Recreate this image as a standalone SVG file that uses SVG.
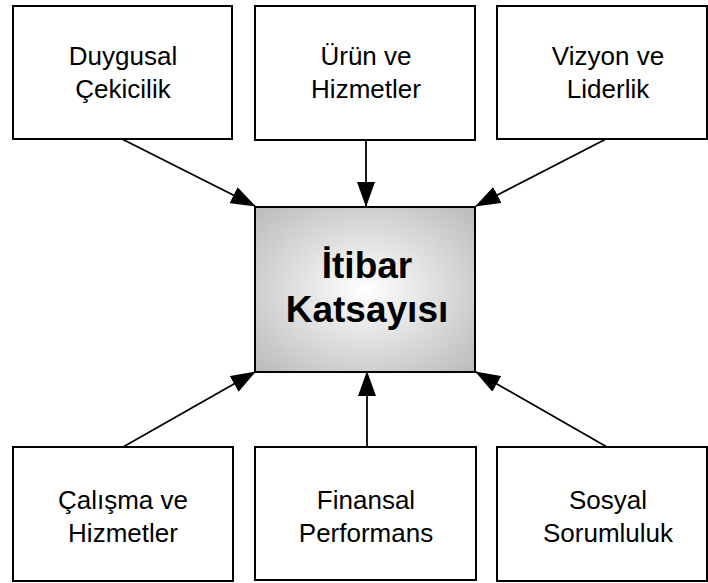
<svg xmlns="http://www.w3.org/2000/svg" width="708" height="583" viewBox="0 0 708 583">
  <style>
    .box { fill: #ffffff; stroke: #000000; stroke-width: 2; }
    .core { fill: url(#coreFill); stroke: #000000; stroke-width: 2; }
    .label { font-family: "Liberation Sans", Arial, sans-serif; font-size: 26px; fill: #000000; text-anchor: middle; }
    .title { font-family: "Liberation Sans", Arial, sans-serif; font-size: 37px; font-weight: bold; fill: #000000; text-anchor: middle; }
    .link { stroke: #000000; stroke-width: 1.8; fill: none; marker-end: url(#head); }
  </style>
  <defs>
    <radialGradient id="coreFill" cx="0.5" cy="0.5" r="0.68">
      <stop offset="0" stop-color="#ffffff"/>
      <stop offset="1" stop-color="#bcbcbc"/>
    </radialGradient>
    <marker id="head" markerUnits="userSpaceOnUse" markerWidth="25" markerHeight="18" refX="24" refY="9" orient="auto">
      <path d="M0,0 L25,9 L0,18 Z" fill="#000000"/>
    </marker>
  </defs>

  <!-- connectors -->
  <g id="connectors">
    <line class="link" x1="122" y1="139" x2="255" y2="206"/>
    <line class="link" x1="366" y1="140" x2="366" y2="206"/>
    <line class="link" x1="606" y1="139" x2="476" y2="206"/>
    <line class="link" x1="123" y1="447" x2="255" y2="372"/>
    <line class="link" x1="367" y1="447" x2="367" y2="372"/>
    <line class="link" x1="607" y1="447" x2="476" y2="372"/>
  </g>

  <!-- top row -->
  <g id="duygusal">
    <rect class="box" x="13" y="6" width="219" height="133"/>
    <text class="label" x="123" y="64.5">Duygusal</text>
    <text class="label" x="123" y="97.5">Çekicilik</text>
  </g>
  <g id="urun">
    <rect class="box" x="255" y="6" width="220" height="134"/>
    <text class="label" x="366" y="64.5">Ürün ve</text>
    <text class="label" x="366" y="97.5">Hizmetler</text>
  </g>
  <g id="vizyon">
    <rect class="box" x="497" y="6" width="210" height="133"/>
    <text class="label" x="608" y="64.5">Vizyon ve</text>
    <text class="label" x="608" y="97.5">Liderlik</text>
  </g>

  <!-- centre -->
  <g id="itibar">
    <rect class="core" x="255" y="207" width="220" height="165"/>
    <text class="title" x="367" y="278">İtibar</text>
    <text class="title" x="367" y="322">Katsayısı</text>
  </g>

  <!-- bottom row -->
  <g id="calisma">
    <rect class="box" x="13" y="447" width="220" height="134"/>
    <text class="label" x="123" y="508.5">Çalışma ve</text>
    <text class="label" x="123" y="541.5">Hizmetler</text>
  </g>
  <g id="finansal">
    <rect class="box" x="255" y="447" width="221" height="133"/>
    <text class="label" x="366" y="508.5">Finansal</text>
    <text class="label" x="366" y="541.5">Performans</text>
  </g>
  <g id="sosyal">
    <rect class="box" x="497" y="447" width="210" height="134"/>
    <text class="label" x="608" y="508.5">Sosyal</text>
    <text class="label" x="608" y="541.5">Sorumluluk</text>
  </g>
</svg>
